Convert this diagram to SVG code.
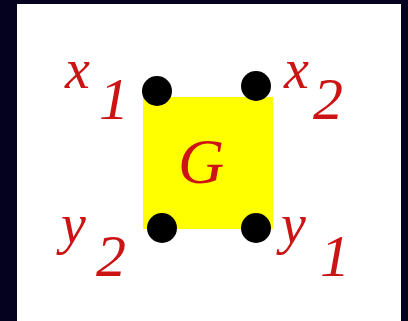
<svg xmlns="http://www.w3.org/2000/svg" width="408" height="321" viewBox="0 0 408 321">
<style>
.t{font-family:"Liberation Serif","DejaVu Serif",serif;font-style:italic;fill:#cc1414;font-size:60px}
.v{font-size:56px}
.d{fill:#000}
</style>
<rect width="408" height="321" fill="#05021f"/>
<rect x="17" y="4" width="384" height="317" fill="#ffffff"/>
<g id="G">
<rect x="143" y="97" width="130" height="132" fill="#ffff00"/>
<text class="t" x="201" y="183" text-anchor="middle" style="font-size:64px">G</text>
</g>
<g id="x1"><circle class="d" cx="157" cy="91" r="15"/><text class="t v" x="65" y="88">x</text><text class="t" x="99" y="119">1</text></g>
<g id="x2"><circle class="d" cx="256" cy="86" r="15"/><text class="t v" x="284" y="88">x</text><text class="t" x="313" y="119">2</text></g>
<g id="y2"><circle class="d" cx="162" cy="228" r="15"/><text class="t v" x="61" y="243">y</text><text class="t" x="96" y="276">2</text></g>
<g id="y1"><circle class="d" cx="256" cy="228" r="15"/><text class="t v" x="281" y="243">y</text><text class="t" x="320" y="276">1</text></g>
<g id="connectors"/>
</svg>
